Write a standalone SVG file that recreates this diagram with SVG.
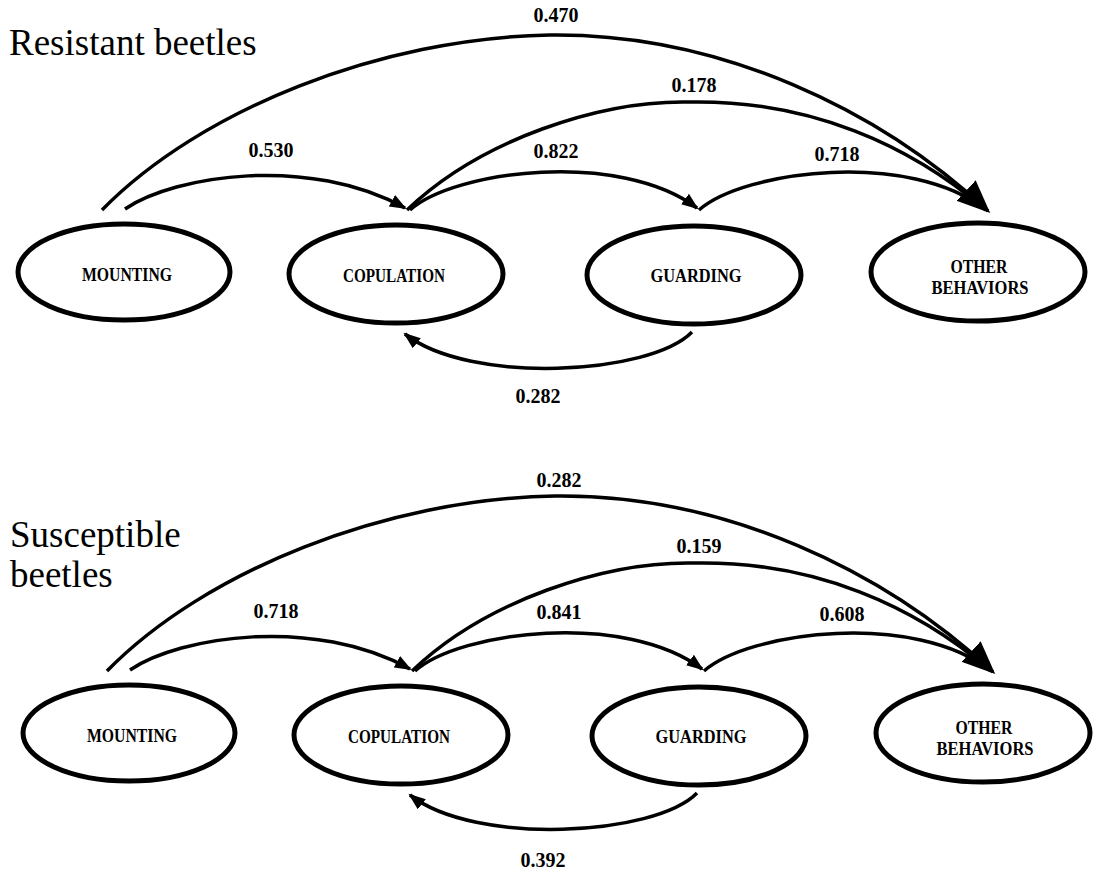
<svg xmlns="http://www.w3.org/2000/svg" width="1100" height="871" viewBox="0 0 1100 871">
<style>
.title{font-family:"Liberation Serif","Times New Roman",serif;font-size:37px;fill:#000}
.node ellipse{fill:#fff;stroke:#000;stroke-width:5}
.node text{font-family:"Liberation Serif","Times New Roman",serif;font-size:18px;font-weight:bold;text-anchor:middle;fill:#000}
.edge{fill:none;stroke:#000;stroke-width:3.5}
.lbl{font-family:"Liberation Serif","Times New Roman",serif;font-size:20px;font-weight:bold;text-anchor:middle;fill:#000}
</style>
<defs>
<marker id="arrS" markerUnits="userSpaceOnUse" markerWidth="18" markerHeight="14" refX="15" refY="6.5" orient="auto">
<path d="M0,0 L17,6.5 L0,13 z" fill="#000"/>
</marker>
<marker id="arrL" markerUnits="userSpaceOnUse" markerWidth="34" markerHeight="30" refX="30" refY="14" orient="auto">
<path d="M0,0 L33,14 L0,28 z" fill="#000"/>
</marker>
</defs>
<rect width="1100" height="871" fill="#fff"/>

<text class="title" x="9" y="55">Resistant beetles</text>
<text class="title" x="10" y="547">Susceptible</text>
<text class="title" x="10" y="587">beetles</text>

<g id="panel-resistant">
<g id="connectors-resistant">
<path class="edge" d="M102,210 C200,110 380,38 550,35 C720,33 880,110 988,211" marker-end="url(#arrL)"/>
<path class="edge" d="M407,210 C480,140 600,100 690,102 C810,100 910,145 986,210"/>
<path class="edge" d="M125,209 C175,175 310,155 405,208" marker-end="url(#arrS)"/>
<path class="edge" d="M410,210 C455,170 620,150 697,208" marker-end="url(#arrS)"/>
<path class="edge" d="M699,210 C745,170 910,150 986,210"/>
<path class="edge" d="M692,332 C650,375 470,385 405,334" marker-end="url(#arrS)"/>
<text class="lbl" x="556" y="22">0.470</text>
<text class="lbl" x="694" y="92">0.178</text>
<text class="lbl" x="271" y="157">0.530</text>
<text class="lbl" x="556" y="158">0.822</text>
<text class="lbl" x="837" y="161">0.718</text>
<text class="lbl" x="538" y="403">0.282</text>
</g>
<g id="r-mounting" class="node"><ellipse cx="124" cy="272" rx="106" ry="48"/><text x="127" y="281" textLength="90" lengthAdjust="spacingAndGlyphs">MOUNTING</text></g>
<g id="r-copulation" class="node"><ellipse cx="396" cy="274" rx="107" ry="49"/><text x="394" y="282" textLength="102" lengthAdjust="spacingAndGlyphs">COPULATION</text></g>
<g id="r-guarding" class="node"><ellipse cx="694" cy="275" rx="107" ry="49"/><text x="696" y="282" textLength="91" lengthAdjust="spacingAndGlyphs">GUARDING</text></g>
<g id="r-other" class="node"><ellipse cx="978" cy="272" rx="107" ry="49"/><text x="979" y="273" textLength="57" lengthAdjust="spacingAndGlyphs">OTHER</text><text x="980" y="294" textLength="97" lengthAdjust="spacingAndGlyphs">BEHAVIORS</text></g>
</g>

<g id="panel-susceptible" transform="translate(5,461)">
<g id="connectors-susceptible">
<path class="edge" d="M102,210 C200,110 380,38 550,35 C720,33 880,110 988,211" marker-end="url(#arrL)"/>
<path class="edge" d="M407,210 C480,140 600,100 690,102 C810,100 910,145 986,210"/>
<path class="edge" d="M125,209 C175,175 310,155 405,208" marker-end="url(#arrS)"/>
<path class="edge" d="M410,210 C455,170 620,150 697,208" marker-end="url(#arrS)"/>
<path class="edge" d="M699,210 C745,170 910,150 986,210"/>
<path class="edge" d="M692,332 C650,375 470,385 405,334" marker-end="url(#arrS)"/>
<text class="lbl" x="554" y="26">0.282</text>
<text class="lbl" x="694" y="92">0.159</text>
<text class="lbl" x="271" y="157">0.718</text>
<text class="lbl" x="554" y="158">0.841</text>
<text class="lbl" x="837" y="160">0.608</text>
<text class="lbl" x="538" y="406">0.392</text>
</g>
<g id="s-mounting" class="node"><ellipse cx="124" cy="272" rx="106" ry="48"/><text x="127" y="281" textLength="90" lengthAdjust="spacingAndGlyphs">MOUNTING</text></g>
<g id="s-copulation" class="node"><ellipse cx="396" cy="274" rx="107" ry="49"/><text x="394" y="282" textLength="102" lengthAdjust="spacingAndGlyphs">COPULATION</text></g>
<g id="s-guarding" class="node"><ellipse cx="694" cy="275" rx="107" ry="49"/><text x="696" y="282" textLength="91" lengthAdjust="spacingAndGlyphs">GUARDING</text></g>
<g id="s-other" class="node"><ellipse cx="978" cy="272" rx="107" ry="49"/><text x="979" y="273" textLength="57" lengthAdjust="spacingAndGlyphs">OTHER</text><text x="980" y="294" textLength="97" lengthAdjust="spacingAndGlyphs">BEHAVIORS</text></g>
</g>
</svg>
